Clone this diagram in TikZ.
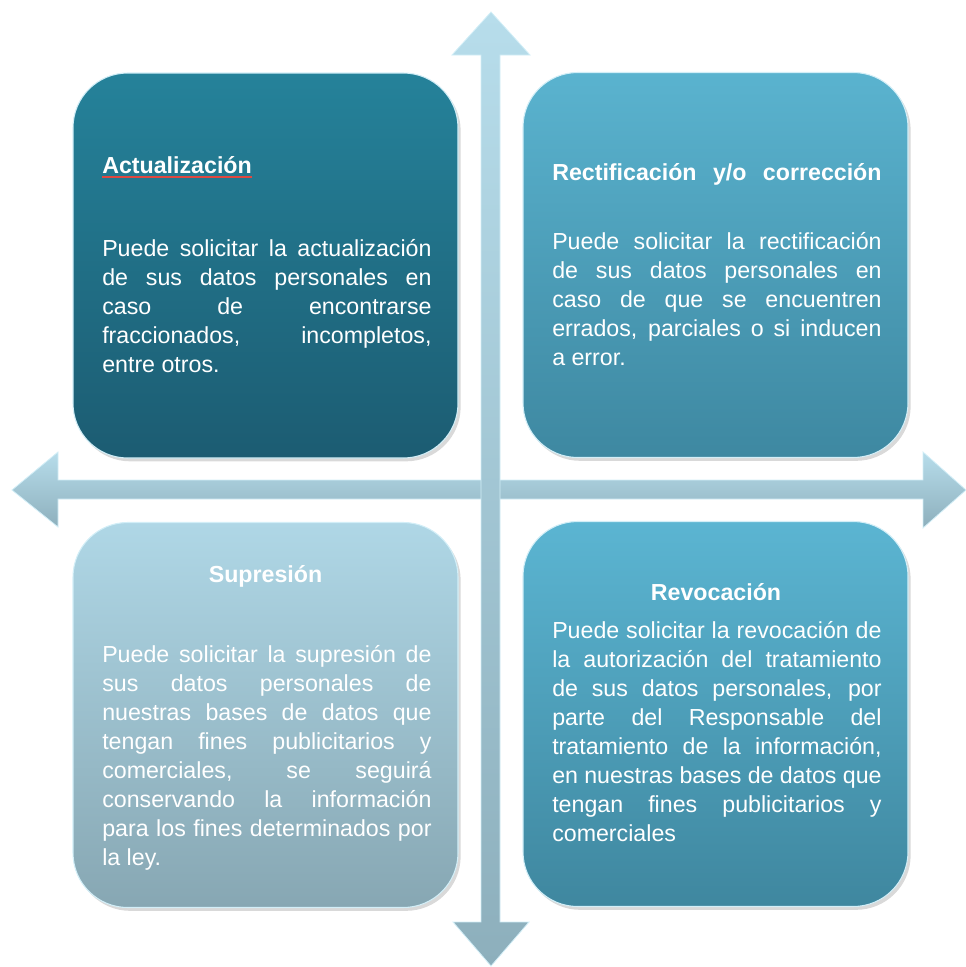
\documentclass[tikz,border=0pt]{standalone}
\usepackage{fontspec}
\setmainfont{Liberation Sans}
\usetikzlibrary{shadows}
\definecolor{acttop}{HTML}{25829A}
\definecolor{actbot}{HTML}{1C5C72}
\definecolor{rectop}{HTML}{5AB3CF}
\definecolor{recbot}{HTML}{3E88A1}
\definecolor{suptop}{HTML}{AFD7E6}
\definecolor{supbot}{HTML}{87A7B3}
\definecolor{revtop}{HTML}{5BB5D2}
\definecolor{revbot}{HTML}{3F879F}
\definecolor{arrtop}{HTML}{B7DDEB}
\definecolor{arrbot}{HTML}{8DAFBC}
\definecolor{rim}{HTML}{D2EEF7}
\definecolor{spell}{HTML}{E2473F}
\tolerance=10000
\hbadness=10000

\begin{document}
\begin{tikzpicture}[x=0.75pt, y=-0.75pt,
    box/.style={rounded corners=41pt, minimum width=288.75pt, minimum height=288.75pt,
        draw=rim, line width=0.8pt,
        drop shadow={opacity=0.3, shadow xshift=2pt, shadow yshift=-2.5pt}},
    arrowbar/.style={top color=arrtop, bottom color=arrbot, draw=rim, line width=0.6pt},
    title/.style={text=white, inner sep=0pt, font=\bfseries\fontsize{17.4}{21.75}\selectfont},
    body/.style={text=white, inner sep=0pt, text width=247pt, align=justify, anchor=base west,
        font=\fontsize{17.4}{21.75}\selectfont}]
\useasboundingbox (0,0) rectangle (966,967);

% the cross
\draw[arrowbar] (58,480)--(58,452)--(12,490)--(58,527)--(58,499)--(923,499)--(923,528)
    --(966,490)--(923,452)--(923,480)--cycle;
\draw[arrowbar] (481,55)--(452,55)--(491,12)--(530,55)--(500,55)--(500,922)--(529,922)
    --(491,966)--(453,922)--(481,922)--cycle;

\foreach \n/\cx/\cy/\ct/\cb in {act/265.5/265.5/acttop/actbot, rec/715.5/265/rectop/recbot,
    sup/265.5/715/suptop/supbot, rev/715.5/714/revtop/revbot}
{
    \node[box, top color=\ct, bottom color=\cb] (\n) at (\cx,\cy) {};
}

\node[title, anchor=base west] (acttit) at (102,173) {Actualización};
\draw[spell, line width=0.9pt] ([yshift=-3pt]acttit.base west) -- ([yshift=-3pt]acttit.base east);
\node[body] (actbody) at (102,256) {Puede solicitar la actualización\linebreak
    de sus datos personales en\linebreak caso de encontrarse\linebreak
    fraccionados, incompletos,\linebreak entre otros.};

\node[title, anchor=base west] (rectit) at (552,180)
    {\hbox to 247pt{Rectificación\hfill y/o\hfill corrección}};
\node[body] (recbody) at (552,249) {Puede solicitar la rectificación\linebreak
    de sus datos personales en\linebreak caso de que se encuentren\linebreak
    errados, parciales o si inducen\linebreak a error.};

\node[title, anchor=base] (suptit) at (265.5,582) {Supresión};
\node[body] (supbody) at (102,662) {Puede solicitar la supresión de\linebreak
    sus datos personales de\linebreak nuestras bases de datos que\linebreak
    tengan fines publicitarios y\linebreak comerciales, se seguirá\linebreak
    conservando la información\linebreak para los fines determinados por\linebreak la ley.};

\node[title, anchor=base] (revtit) at (716,600) {Revocación};
\node[body] (revbody) at (552,638) {Puede solicitar la revocación de\linebreak
    la autorización del tratamiento\linebreak de sus datos personales, por\linebreak
    parte del Responsable del\linebreak tratamiento de la información,\linebreak
    en nuestras bases de datos que\linebreak tengan fines publicitarios y\linebreak comerciales};

\end{tikzpicture}
\end{document}
